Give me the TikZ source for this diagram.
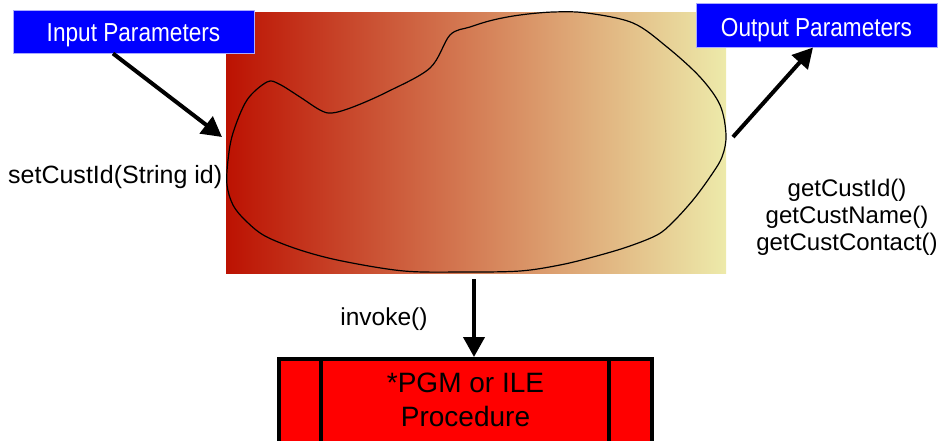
\documentclass[tikz,border=0pt]{standalone}
\usepackage{fontspec}
\setmainfont{Liberation Sans}
\usepackage{graphicx}
\usetikzlibrary{arrows.meta}
\definecolor{gl}{RGB}{188,18,2}
\definecolor{gr}{RGB}{237,234,170}
\definecolor{pbox}{RGB}{0,0,255}
\definecolor{pedge}{RGB}{170,170,255}
\begin{document}
\begin{tikzpicture}[x=1pt,y=-1pt,
  parambox/.style={rectangle, fill=pbox, draw=pedge, line width=1pt, minimum width=241pt, inner sep=0pt, text=white, font=\fontsize{26}{30}\selectfont},
  bigarrow/.style={line width=4pt, -{Triangle[length=20pt,width=21pt]}},
  plainlabel/.style={font=\fontsize{24.5}{28}\selectfont, inner sep=0pt},
  procbox/.style={rectangle, fill=red, draw=black, line width=4pt, minimum width=373pt, minimum height=91pt, inner sep=0pt},
  proclabel/.style={align=center, inner sep=0pt, font=\fontsize{28}{34}\selectfont},
  innerline/.style={line width=3.5pt},
  blobline/.style={line width=1.2pt, black}
]
\useasboundingbox (0,0) rectangle (949,440);
\clip (0,0) rectangle (949,440);

% shaded panel
\shade[left color=gl, right color=gr] (226,12) rectangle (726,273);

% blob outline
\draw[blobline] plot[smooth cycle, tension=0.55] coordinates {
 (227,185) (228,160) (233,133) (247,100) (267,82) (279,84) (300,97) (320,110)
 (332,113) (353,107) (387,92) (430,68) (450,35) (470,27) (493,20) (520,15)
 (553,12) (587,13) (633,23) (667,47) (700,77) (720,105) (726,135) (722,157)
 (710,177) (693,200) (673,222) (657,235) (627,247) (593,257) (560,265)
 (520,271) (464,272) (404,271) (342,261) (300,250) (265,236) (245,220)
 (233,205)};

% parameter boxes
\node[parambox, minimum height=43pt, text height=22pt, text depth=1.6pt] (inp) at (133.5,31.5) {\scalebox{0.87}[1]{Input Parameters}};
\node[parambox, minimum height=44pt, text height=23pt, text depth=1pt] (outp) at (816.5,25) {\scalebox{0.87}[1]{Output Parameters}};

% procedure box
\node[procbox] (proc) at (465.5,404.5) {};
\draw[innerline] ([xshift=44pt]proc.north west) -- ([xshift=44pt]proc.south west);
\draw[innerline] ([xshift=-45pt]proc.north east) -- ([xshift=-45pt]proc.south east);
\node[proclabel] (proctxt) at (465.5,400) {*PGM or ILE\\Procedure};

% arrows
\coordinate (inTip) at (222,137);
\coordinate (outStart) at (733,137);
\coordinate (invStart) at (474,279);
\draw[bigarrow] ([xshift=-20.5pt]inp.south) -- (inTip);
\draw[bigarrow] (outStart) -- ([xshift=-3.5pt]outp.south);
\draw[bigarrow] (invStart) -- (invStart |- proc.north);

% labels
\node[plainlabel, font=\fontsize{25}{28}\selectfont, anchor=base west] (setlbl) at (8,183) {setCustId(String id)};
\node[plainlabel, anchor=base] (invlbl) at (384,325) {invoke()};
\node[plainlabel, font=\fontsize{24}{28}\selectfont, anchor=base] (g1) at (847,196) {getCustId()};
\node[plainlabel, font=\fontsize{24}{28}\selectfont, anchor=base] (g2) at (847,223) {getCustName()};
\node[plainlabel, font=\fontsize{24}{28}\selectfont, anchor=base] (g3) at (847,250) {getCustContact()};
\end{tikzpicture}
\end{document}
